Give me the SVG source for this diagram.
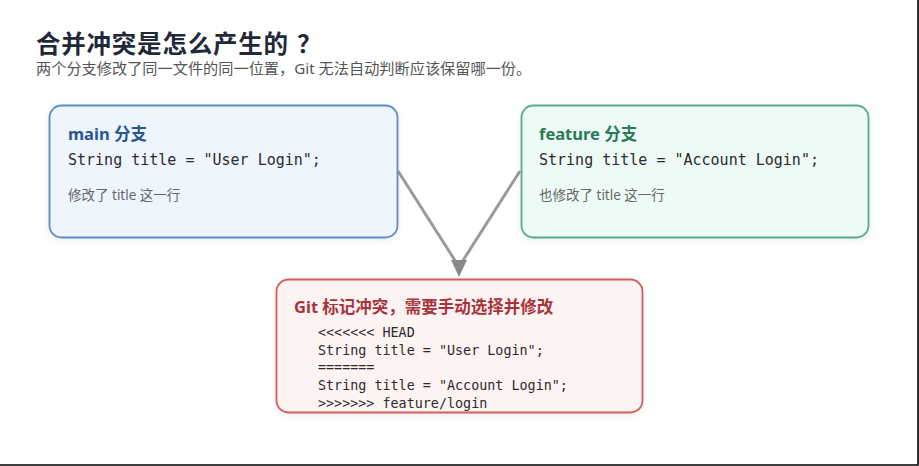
<svg xmlns="http://www.w3.org/2000/svg" width="919" height="466" viewBox="0 0 919 466">
<style>
.cjk{font-family:"Noto Sans","Noto Sans CJK SC",sans-serif}
.mono{font-family:"DejaVu Sans Mono","Noto Sans CJK SC",monospace;fill:#2b2b2b}
.ttl{font-weight:700;font-size:16.5px}
.note{font-size:13.5px;fill:#666}
.box{stroke-width:1.8}
.conn{stroke:#9a9a9a;stroke-width:3;fill:none}
</style>
<defs>
<filter id="sh" x="-10%" y="-10%" width="120%" height="130%">
<feDropShadow dx="0" dy="2" stdDeviation="3" flood-color="#000" flood-opacity="0.08"/>
</filter>
</defs>
<rect width="919" height="466" fill="#fff"/>
<g id="header">
<text y="53" font-family="Noto Sans CJK SC, sans-serif" font-size="24.5" font-weight="700" fill="#1f2937"><tspan x="36" textLength="252" lengthAdjust="spacing">合并冲突是怎么产生的</tspan><tspan x="297">？</tspan></text>
<text x="36" y="73.5" class="cjk" font-size="15.2" fill="#555">两个分支修改了同一文件的同一位置，Git 无法自动判断应该保留哪一份。</text>
</g>
<g id="connectors">
<line class="conn" x1="398" y1="171" x2="456" y2="262"/>
<line class="conn" x1="520" y1="171" x2="462" y2="262"/>
<path d="M451,260 L467,260 L459,277 Z" fill="#8a8a8a"/>
</g>
<g id="main">
<rect class="box" x="49.5" y="105.5" width="348" height="132" rx="12" fill="#eef5fd" stroke="#5b8bc7" filter="url(#sh)"/>
<text x="68" y="140" class="cjk ttl" fill="#2a5592">main 分支</text>
<text x="68" y="165" class="mono" font-size="15">String title = "User Login";</text>
<text x="68" y="200" class="cjk note">修改了 title 这一行</text>
</g>
<g id="feature">
<rect class="box" x="521.5" y="105.5" width="347" height="132" rx="12" fill="#eefaf6" stroke="#57ab8a" filter="url(#sh)"/>
<text x="539" y="140" class="cjk ttl" fill="#2a7a57">feature 分支</text>
<text x="539" y="165" class="mono" font-size="15">String title = "Account Login";</text>
<text x="539" y="200" class="cjk note">也修改了 title 这一行</text>
</g>
<g id="conflict">
<rect class="box" x="276.5" y="279.5" width="366" height="133" rx="12" fill="#fdf3f3" stroke="#d35c5c" filter="url(#sh)"/>
<text x="294" y="313" class="cjk ttl" fill="#a8333a">Git 标记冲突，需要手动选择并修改</text>
<text class="mono" font-size="13.4">
<tspan x="318" y="337">&lt;&lt;&lt;&lt;&lt;&lt;&lt; HEAD</tspan>
<tspan x="318" y="355">String title = "User Login";</tspan>
<tspan x="318" y="372">=======</tspan>
<tspan x="318" y="390">String title = "Account Login";</tspan>
<tspan x="318" y="408">&gt;&gt;&gt;&gt;&gt;&gt;&gt; feature/login</tspan>
</text>
</g>
<path d="M0,465 H918 V0" fill="none" stroke="#000" stroke-width="1.6"/>
</svg>
